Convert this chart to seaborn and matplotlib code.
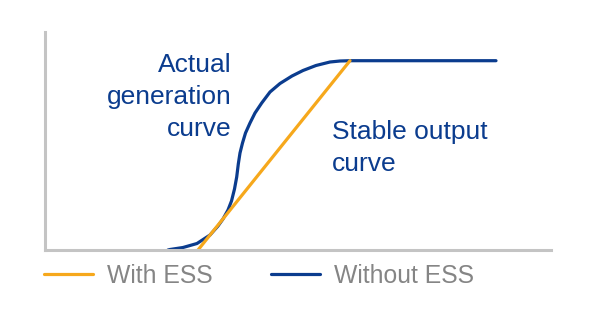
import matplotlib
matplotlib.use("Agg")
import matplotlib.pyplot as plt
import seaborn as sns
import pandas as pd

# Data (arbitrary time / power units)
without_x = [123, 125, 138, 152, 165, 173, 178, 183, 186.5, 189.5, 191.7, 193.3, 195, 197.5, 200.5,
             205, 210, 216.7, 225, 235, 247, 258, 271, 285, 295, 305, 451]
without_y = [0, 0.5, 2.5, 6.5, 15, 24, 31, 40, 49, 61, 73, 86, 97, 107, 117,
             127, 137, 147, 158, 166.5, 174, 179.5, 184.5, 188, 189, 189.3, 189.3]
with_x = [153, 305]
with_y = [0, 189.3]

labels = ["With ESS", "Without ESS"]
label_actual = "Actual\ngeneration\ncurve"
label_stable = "Stable output\ncurve"

BLUE = "#0b3c8e"
ORANGE = "#f6a81c"
AXIS = "#c4c4c4"
GREY = "#858585"

sns.set_theme(style="white")
plt.rcParams["font.family"] = ["Liberation Sans", "DejaVu Sans"]

W, H = 594, 314
fig = plt.figure(figsize=(W / 100, H / 100), dpi=100)
ax = fig.add_axes([45 / W, (H - 250) / H, 506 / W, 218 / H])

df_wo = pd.DataFrame({"t": without_x, "p": without_y})
df_w = pd.DataFrame({"t": with_x, "p": with_y})

sns.lineplot(data=df_wo, x="t", y="p", sort=False, estimator=None, color=BLUE,
             linewidth=2.3, label=labels[1], ax=ax)
sns.lineplot(data=df_w, x="t", y="p", sort=False, estimator=None, color=ORANGE,
             linewidth=2.3, label=labels[0], ax=ax)
for ln in ax.lines:
    ln.set_solid_joinstyle("round")

ax.set_xlim(0, 506)
ax.set_ylim(0, 218)
ax.set_xticks([])
ax.set_yticks([])
ax.set_xlabel("")
ax.set_ylabel("")
for s in ["top", "right"]:
    ax.spines[s].set_visible(False)
for s in ["left", "bottom"]:
    ax.spines[s].set_color(AXIS)
    ax.spines[s].set_linewidth(2.2)

ax.text(232 / W, 1 - 53 / H, label_actual, transform=fig.transFigure, ha="right", va="top",
        fontsize=19, color=BLUE, linespacing=1.42)
ax.text(332 / W, 1 - 120 / H, label_stable, transform=fig.transFigure, ha="left", va="top",
        fontsize=19, color=BLUE, linespacing=1.42)

handles, hl = ax.get_legend_handles_labels()
order = [hl.index(labels[0]), hl.index(labels[1])]
ax.legend([handles[i] for i in order], [hl[i] for i in order],
          loc="center left", bbox_to_anchor=(44 / W, 1 - 276 / H), bbox_transform=fig.transFigure,
          ncol=2, frameon=False, fontsize=17.8, labelcolor=GREY, handlelength=2.0,
          handletextpad=0.55, columnspacing=2.35, borderpad=0, borderaxespad=0)

fig.savefig("out.png", dpi=100)
